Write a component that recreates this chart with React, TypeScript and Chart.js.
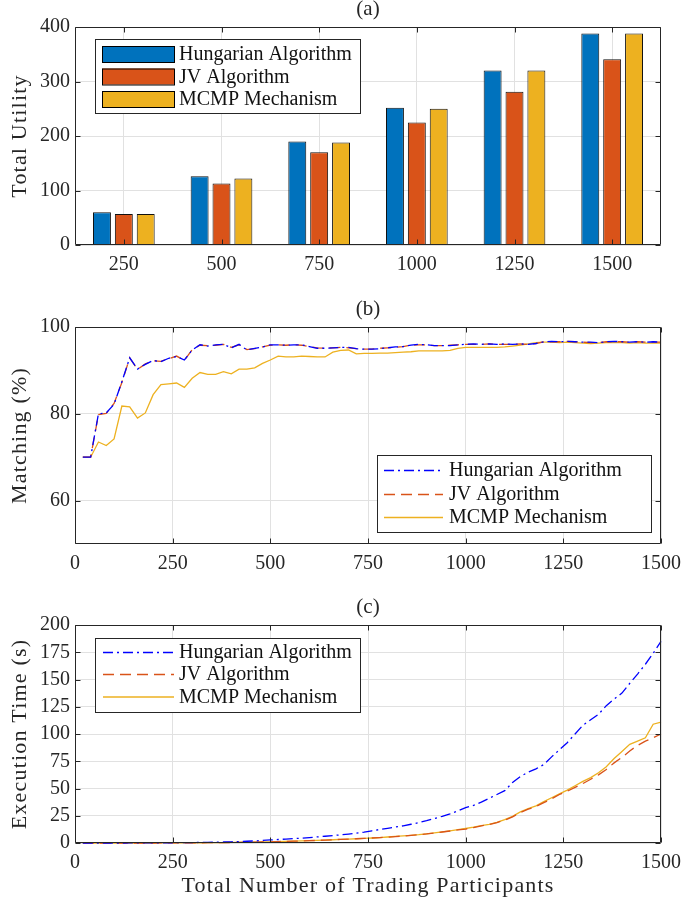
import React, { useEffect, useRef } from 'react';
import { Chart, registerables } from 'chart.js';

Chart.register(...registerables);

const FONT = "'Liberation Serif', 'Times New Roman', serif";
const INK = '#262626';
const GRID = '#e1e1e1';

// ---------- Panel (a) data ----------
const barCategories = ['250', '500', '750', '1000', '1250', '1500'];
const barHungarian = [60, 126, 190, 252, 320, 388];
const barJV = [57, 113, 170, 225, 281, 341];
const barMCMP = [57, 122, 188, 250, 320, 388];
const utilityTicks = [0, 100, 200, 300, 400];

// ---------- Shared x for (b) and (c) ----------
const participants = [20, 40, 60, 80, 100, 120, 140, 160, 180, 200, 220, 240, 260, 280, 300, 320, 340, 360, 380, 400, 420, 440, 460, 480, 500,
  520, 540, 560, 580, 600, 620, 640, 660, 680, 700, 720, 740, 760, 780, 800, 820, 840, 860, 880, 900, 920, 940, 960, 980, 1000,
  1020, 1040, 1060, 1080, 1100, 1120, 1140, 1160, 1180, 1200, 1220, 1240, 1260, 1280, 1300, 1320, 1340, 1360, 1380, 1400, 1420, 1440, 1460, 1480, 1500];
const participantTicks = [0, 250, 500, 750, 1000, 1250, 1500];

// ---------- Panel (b) data ----------
const matchHungarian = [70, 70, 80, 80.2, 82.2, 87.4, 92.9, 90.3, 91.4, 92.3, 92.0, 92.8, 93.2, 92.4, 94.7, 95.9, 95.6, 95.9, 96.0, 95.2, 96.0, 94.7, 95.1, 95.4, 95.9,
  95.9, 95.8, 95.9, 95.9, 95.5, 95.1, 95.1, 95.2, 95.3, 95.3, 95.0, 94.9, 94.9, 95.0, 95.2, 95.4, 95.5, 95.8, 96.0, 95.9, 95.7, 95.7, 95.7, 95.9, 96.0,
  96.1, 96.0, 96.1, 96.0, 96.1, 96.0, 96.1, 96.0, 96.2, 96.6, 96.7, 96.6, 96.7, 96.6, 96.5, 96.5, 96.4, 96.6, 96.7, 96.6, 96.5, 96.6, 96.5, 96.6, 96.5];
const matchJV = [70, 70, 79.8, 80.1, 82.4, 87.2, 92.9, 90.2, 91.5, 92.2, 92.1, 92.7, 93.3, 92.3, 94.8, 95.8, 95.7, 95.8, 96.0, 95.3, 95.9, 94.8, 95.0, 95.4, 95.8,
  95.9, 95.8, 95.9, 95.8, 95.5, 95.2, 95.1, 95.2, 95.3, 95.2, 95.0, 94.9, 94.9, 95.1, 95.2, 95.3, 95.5, 95.8, 95.9, 95.9, 95.7, 95.7, 95.8, 95.9, 96.0,
  96.0, 96.0, 96.1, 96.0, 96.0, 96.0, 96.1, 96.0, 96.2, 96.6, 96.6, 96.6, 96.7, 96.6, 96.5, 96.4, 96.4, 96.6, 96.6, 96.6, 96.5, 96.6, 96.5, 96.5, 96.5];
const matchMCMP = [70, 70, 73.5, 72.7, 74.2, 81.8, 81.6, 79.0, 80.2, 84.4, 86.7, 86.9, 87.1, 86.1, 88.2, 89.5, 89.1, 89.1, 89.7, 89.2, 90.3, 90.3, 90.6, 91.6, 92.4,
  93.3, 93.1, 93.1, 93.3, 93.2, 93.1, 93.1, 94.2, 94.6, 94.7, 93.8, 93.9, 93.9, 94.0, 94.0, 94.1, 94.2, 94.3, 94.5, 94.5, 94.5, 94.5, 94.6, 95.1, 95.3,
  95.3, 95.3, 95.3, 95.3, 95.4, 95.6, 95.8, 96.1, 96.4, 96.5, 96.5, 96.4, 96.5, 96.4, 96.3, 96.2, 96.3, 96.4, 96.4, 96.4, 96.3, 96.4, 96.3, 96.3, 96.3];
const matchingTicks = [60, 80, 100];

// ---------- Panel (c) data ----------
const timeHungarian = [0, 0, 0, 0, 0, 0, 0.1, 0.1, 0.1, 0.1, 0.2, 0.2, 0.3, 0.3, 0.4, 0.5, 0.6, 0.8, 0.9, 1.1, 1.3, 1.6, 1.9, 2.3, 2.8,
  3.2, 3.6, 4.0, 4.4, 5.0, 5.6, 6.2, 6.8, 7.5, 8.2, 9.0, 10.0, 11.2, 12.4, 13.5, 14.6, 15.8, 17.2, 18.7, 20.5, 22.5, 24.5, 26.8, 29.5, 32.5,
  34.5, 37.5, 41.0, 44.5, 48.0, 55.5, 61.0, 65.0, 68.0, 72.0, 79.0, 85.5, 92.0, 100.0, 108.0, 113.0, 118.0, 126.0, 132.0, 137.5, 146.5, 155.0, 164.0, 174.0, 185.0];
const timeJV = [0, 0, 0, 0, 0, 0, 0, 0, 0, 0, 0.1, 0.1, 0.1, 0.1, 0.2, 0.2, 0.3, 0.3, 0.4, 0.5, 0.6, 0.7, 0.8, 0.9, 1.1,
  1.3, 1.5, 1.7, 1.9, 2.1, 2.4, 2.7, 3.0, 3.3, 3.6, 3.9, 4.2, 4.6, 5.0, 5.4, 5.9, 6.4, 7.0, 7.6, 8.3, 9.2, 10.1, 11.0, 12.0, 12.8,
  14.2, 15.8, 17.0, 18.8, 21.0, 24.0, 28.0, 31.0, 33.5, 37.0, 40.5, 44.5, 47.5, 51.0, 54.5, 58.5, 62.5, 67.5, 73.5, 78.5, 84.5, 89.5, 93.5, 96.5, 100.0];
const timeMCMP = [0, 0, 0, 0, 0, 0, 0, 0, 0, 0, 0.1, 0.1, 0.1, 0.1, 0.2, 0.2, 0.3, 0.3, 0.4, 0.5, 0.6, 0.7, 0.8, 0.9, 1.1,
  1.3, 1.5, 1.7, 1.9, 2.2, 2.4, 2.7, 3.0, 3.3, 3.6, 3.9, 4.2, 4.6, 5.0, 5.5, 6.0, 6.5, 7.0, 7.6, 8.4, 9.3, 10.3, 11.2, 12.2, 13.3,
  14.5, 16.0, 17.0, 19.0, 21.5, 24.5, 28.5, 31.5, 34.0, 38.0, 41.5, 45.0, 48.5, 52.5, 56.5, 60.0, 64.5, 70.0, 77.5, 84.0, 90.5, 93.5, 96.5, 109.0, 111.0];
const timeTicks = [0, 25, 50, 75, 100, 125, 150, 175, 200];

const seriesNames = ['Hungarian Algorithm', 'JV Algorithm', 'MCMP Mechanism'];
const barColors = ['#0072BD', '#D95319', '#EDB120'];
const lineColors = ['#0000FF', '#D95319', '#EDB120'];
const lineDashes: number[][] = [[10, 4, 2, 4], [11, 6], []];

type LegendSpec = {
  box: [number, number, number, number];
  sample: [number, number];
  textX: number;
  rows: number[];
  kind: 'bar' | 'line';
};

function decorPlugin(opts: { title: string; yTitle: string; xTitle?: string; xTitleY?: number; legend: LegendSpec }) {
  return {
    id: 'decor',
    afterDraw(chart: any) {
      const ctx: CanvasRenderingContext2D = chart.ctx;
      const a = chart.chartArea;
      const L = Math.round(a.left) + 0.5, R = Math.round(a.right) - 0.5;
      const T = Math.round(a.top) + 0.5, B = Math.round(a.bottom) - 0.5;
      ctx.save();
      ctx.strokeStyle = INK;
      ctx.lineWidth = 1;
      ctx.setLineDash([]);
      ctx.beginPath();
      ctx.rect(L, T, R - L, B - T);
      ctx.stroke();
      const TL = 5;
      const xs = chart.scales.x, ys = chart.scales.y;
      ctx.beginPath();
      xs.ticks.forEach((_t: any, i: number) => {
        const px = Math.round(xs.getPixelForTick(i)) + 0.5;
        ctx.moveTo(px, B); ctx.lineTo(px, B - TL);
        ctx.moveTo(px, T); ctx.lineTo(px, T + TL);
      });
      ys.ticks.forEach((_t: any, i: number) => {
        const py = Math.round(ys.getPixelForTick(i)) + 0.5;
        ctx.moveTo(L, py); ctx.lineTo(L + TL, py);
        ctx.moveTo(R, py); ctx.lineTo(R - TL, py);
      });
      ctx.stroke();

      const cx = (a.left + a.right) / 2;
      ctx.fillStyle = INK;
      ctx.textAlign = 'center';
      ctx.textBaseline = 'middle';
      ctx.font = `21px ${FONT}`;
      ctx.fillText(opts.title, cx, a.top - 17.5);

      ctx.font = `22px ${FONT}`;
      (ctx as any).letterSpacing = '1.2px';
      ctx.save();
      ctx.translate(20, (a.top + a.bottom) / 2);
      ctx.rotate(-Math.PI / 2);
      ctx.fillText(opts.yTitle, 0, 0);
      ctx.restore();
      if (opts.xTitle) ctx.fillText(opts.xTitle, cx, opts.xTitleY as number);
      (ctx as any).letterSpacing = '0px';

      const lg = opts.legend;
      const [bx1, by1, bx2, by2] = lg.box;
      ctx.fillStyle = '#ffffff';
      ctx.fillRect(bx1, by1, bx2 - bx1, by2 - by1);
      ctx.strokeStyle = INK;
      ctx.strokeRect(Math.round(bx1) + 0.5, Math.round(by1) + 0.5, Math.round(bx2 - bx1), Math.round(by2 - by1));
      ctx.font = `20px ${FONT}`;
      ctx.textAlign = 'left';
      lg.rows.forEach((ry, i) => {
        if (lg.kind === 'bar') {
          const h = 16;
          ctx.fillStyle = barColors[i];
          ctx.fillRect(lg.sample[0], ry - h / 2, lg.sample[1] - lg.sample[0], h);
          ctx.strokeStyle = '#000';
          ctx.lineWidth = 1;
          ctx.strokeRect(lg.sample[0] + 0.5, ry - h / 2 + 0.5, lg.sample[1] - lg.sample[0], h);
        } else {
          ctx.strokeStyle = lineColors[i];
          ctx.lineWidth = 1.3;
          ctx.setLineDash(lineDashes[i]);
          ctx.beginPath();
          ctx.moveTo(lg.sample[0], ry + 0.5);
          ctx.lineTo(lg.sample[1], ry + 0.5);
          ctx.stroke();
          ctx.setLineDash([]);
        }
        ctx.fillStyle = '#111';
        ctx.fillText(seriesNames[i], lg.textX, ry + 1);
      });
      ctx.restore();
    },
  };
}

const tickFont = { family: FONT, size: 20 };

function yAxis(min: number, max: number, ticks: number[]) {
  return {
    min, max,
    afterBuildTicks: (s: any) => { s.ticks = ticks.map((v) => ({ value: v })); },
    afterFit: (s: any) => { s.width = 75; s.paddingTop = 0; s.paddingBottom = 0; },
    grid: { color: GRID, drawTicks: false, lineWidth: 1 },
    border: { display: false },
    ticks: { font: tickFont, color: INK, padding: 5, callback: (v: any) => String(v) },
  };
}

function lineConfig(values: number[][], yMin: number, yMax: number, yTicks: number[], axisH: number, top: number, plugin: any) {
  return {
    type: 'line',
    data: {
      labels: participants,
      datasets: values.map((vals, i) => ({
        label: seriesNames[i],
        data: participants.map((x, j) => ({ x, y: vals[j] })),
        borderColor: lineColors[i],
        borderWidth: 1.3,
        borderDash: lineDashes[i],
        pointRadius: 0,
        fill: false,
        tension: 0,
        clip: 4,
      })),
    },
    options: {
      responsive: false,
      animation: false,
      devicePixelRatio: 1,
      layout: { padding: { top, right: 22, bottom: 0, left: 0 } },
      plugins: { legend: { display: false }, title: { display: false }, tooltip: { enabled: false } },
      scales: {
        x: {
          type: 'linear', min: 0, max: 1500,
          afterBuildTicks: (s: any) => { s.ticks = participantTicks.map((v) => ({ value: v })); },
          afterFit: (s: any) => { s.height = axisH; s.paddingLeft = 0; s.paddingRight = 0; },
          grid: { color: GRID, drawTicks: false },
          border: { display: false },
          ticks: { font: tickFont, color: INK, padding: 8, maxRotation: 0, autoSkip: false, callback: (v: any) => String(v) },
        },
        y: yAxis(yMin, yMax, yTicks),
      },
    },
    plugins: [plugin],
  };
}

function barConfig() {
  return {
    type: 'bar',
    data: {
      labels: barCategories,
      datasets: [barHungarian, barJV, barMCMP].map((vals, i) => ({
        label: seriesNames[i],
        data: vals,
        backgroundColor: barColors[i],
        borderColor: '#111',
        borderWidth: 1,
        categoryPercentage: 0.672,
        barPercentage: 0.82,
      })),
    },
    options: {
      responsive: false,
      animation: false,
      devicePixelRatio: 1,
      layout: { padding: { top: 27, right: 22, bottom: 0, left: 0 } },
      plugins: { legend: { display: false }, title: { display: false }, tooltip: { enabled: false } },
      scales: {
        x: {
          type: 'category',
          offset: true,
          afterFit: (s: any) => { s.height = 45; s.paddingLeft = 0; s.paddingRight = 0; },
          grid: { color: GRID, drawTicks: false, offset: false },
          border: { display: false },
          ticks: { font: tickFont, color: INK, padding: 8, maxRotation: 0, autoSkip: false },
        },
        y: yAxis(0, 400, utilityTicks),
      },
    },
    plugins: [decorPlugin({
      title: '(a)', yTitle: 'Total Utility',
      legend: { box: [95, 39, 360, 113], sample: [102, 174], textX: 179, rows: [54, 76.5, 99], kind: 'bar' },
    })],
  };
}

function Panel({ height, make }: { height: number; make: () => any }) {
  const ref = useRef<HTMLCanvasElement>(null);
  useEffect(() => {
    const chart = new Chart(ref.current as HTMLCanvasElement, make());
    return () => chart.destroy();
  }, []);
  return <canvas ref={ref} width={683} height={height} style={{ display: 'block', width: 683, height }} />;
}

export default function App() {
  return (
    <div style={{ position: 'absolute', left: 0, top: 0, width: 683, height: 903, background: '#fff' }}>
      <Panel height={290} make={barConfig} />
      <Panel height={290} make={() => lineConfig([matchHungarian, matchJV, matchMCMP], 50, 100, matchingTicks, 36, 37,
        decorPlugin({
          title: '(b)', yTitle: 'Matching (%)',
          legend: { box: [377, 165, 651, 242], sample: [384, 443], textX: 449, rows: [180, 204, 227], kind: 'line' },
        }))} />
      <Panel height={323} make={() => lineConfig([timeHungarian, timeJV, timeMCMP], 0, 200, timeTicks, 60, 45,
        decorPlugin({
          title: '(c)', yTitle: 'Execution Time (s)', xTitle: 'Total Number of Trading Participants', xTitleY: 306.5,
          legend: { box: [95, 58, 360, 132], sample: [103, 174], textX: 179, rows: [72, 94, 116.5], kind: 'line' },
        }))} />
    </div>
  );
}
